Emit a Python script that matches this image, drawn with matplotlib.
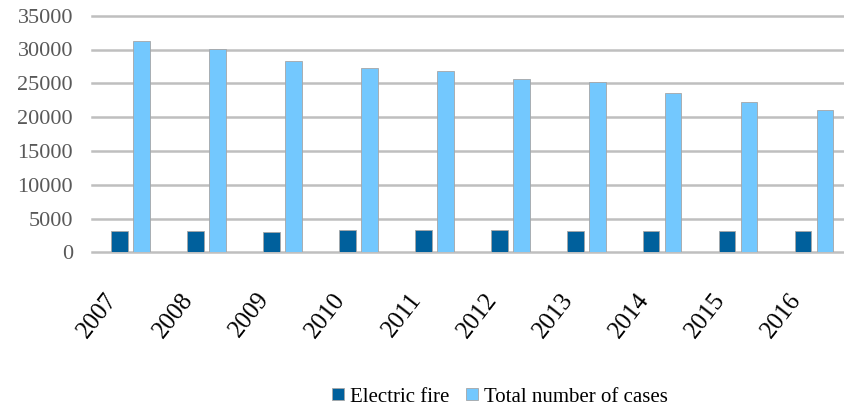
import matplotlib.pyplot as plt
import matplotlib.transforms as mtransforms
import numpy as np

plt.rcParams['font.family'] = ['Liberation Serif', 'DejaVu Serif']

years = ['2007', '2008', '2009', '2010', '2011', '2012', '2013', '2014', '2015', '2016']
electric_fire = [3150, 3150, 2960, 3300, 3300, 3300, 3150, 3150, 3150, 3150]
total_cases = [31200, 30080, 28360, 27280, 26880, 25700, 25150, 23590, 22300, 21020]

x = np.arange(len(years))
w = 0.22
off = 0.145

fig = plt.figure(figsize=(8.45, 4.08), dpi=100)
ax = fig.add_axes([92.5 / 845, 1 - 252.3 / 408, (852 - 92.5) / 845, (252.3 - 15.7) / 408])

ax.bar(x - off, electric_fire, w, color='#00609c', edgecolor='#a6a6a6', linewidth=0.6,
       label='Electric fire', zorder=3)
ax.bar(x + off, total_cases, w, color='#73c8fe', edgecolor='#a6a6a6', linewidth=0.6,
       label='Total number of cases', zorder=3)

ax.set_xlim(-0.5, len(years) - 0.5)
ax.set_ylim(0, 35000)
ax.set_yticks(np.arange(0, 35001, 5000))
for v in range(0, 35001, 5000):
    ax.axhline(v, color='#bfbfbf', linewidth=1.8, zorder=1, clip_on=False)

for s in ax.spines.values():
    s.set_visible(False)

ax.tick_params(axis='y', length=0, pad=14, labelsize=16, labelcolor='#595959')
ax.tick_params(axis='x', length=0, pad=6, labelsize=18)
ax.set_xticks(x)
ax.set_xticklabels(years, rotation=52, ha='right', rotation_mode='anchor')

# push the year labels down and to the left, as in the original
shift = mtransforms.ScaledTranslation(-0.26, -0.28, fig.dpi_scale_trans)
for lab in ax.get_xticklabels():
    lab.set_transform(lab.get_transform() + shift)

fig.legend(loc='center', bbox_to_anchor=(500 / 845, 1 - 397 / 408), ncol=2, frameon=False,
           fontsize=15, handlelength=0.55, handleheight=0.55, handletextpad=0.3,
           columnspacing=0.8)

fig.savefig('out.png', dpi=100)
